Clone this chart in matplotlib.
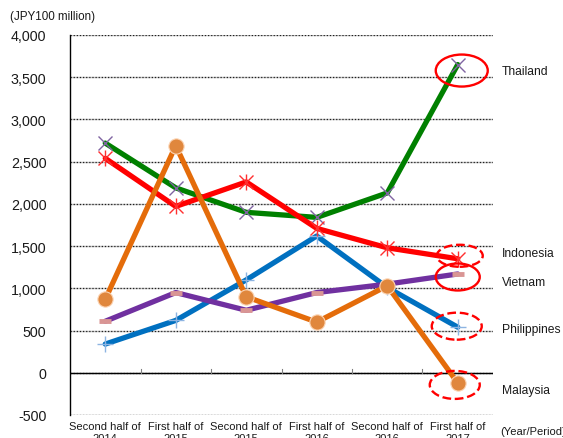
import numpy as np
import matplotlib
matplotlib.use('Agg')
import matplotlib.pyplot as plt
from matplotlib.patches import Ellipse

plt.rcParams['font.family'] = ['Liberation Sans', 'DejaVu Sans']

periods = ["Second half of\n2014", "First half of\n2015", "Second half of\n2015",
           "First half of\n2016", "Second half of\n2016", "First half of\n2017"]

thailand = [2720, 2190, 1900, 1840, 2130, 3650]
indonesia = [2540, 1970, 2260, 1710, 1480, 1350]
vietnam = [610, 950, 740, 950, 1050, 1170]
philippines = [340, 620, 1100, 1620, 1010, 540]
malaysia = [870, 2690, 900, 600, 1030, -120]

ymin, ymax = -500, 4000
x = np.arange(len(periods))

fig = plt.figure(figsize=(5.63, 4.39), dpi=100)
ax = fig.add_axes([70 / 563, 23 / 439, 423 / 563, 380 / 439])

ax.set_xlim(-0.5, len(periods) - 0.5)
ax.set_ylim(ymin, ymax)

# gridlines: light grey line with black dots on top
yt = np.arange(ymin, ymax + 1, 500)
for v in yt:
    ax.axhline(v, color='#c0c0c0', lw=1.0, zorder=0)
    ax.axhline(v, color='#202020', lw=0.9, ls=(0, (1, 1.5)), zorder=0.5)

# series
ax.plot(x, thailand, color='#008000', lw=3.8, zorder=2, solid_capstyle='round',
        marker='x', ms=10, mec='#8064A2', mew=1.0)
ax.plot(x, philippines, color='#0070C0', lw=3.8, zorder=3, solid_capstyle='round',
        marker='+', ms=11, mec='#8DB4E2', mew=1.0)
ax.plot(x, indonesia, color='#FF0000', lw=3.8, zorder=4, solid_capstyle='round',
        marker='x', ms=10, mec='#FF3030', mew=1.0)
ax.plot(x, indonesia, ls='none', marker='|', ms=12, mec='#FF3030', mew=1.0, zorder=4)
ax.plot(x, vietnam, color='#7030A0', lw=3.8, zorder=5, solid_capstyle='round',
        marker='_', ms=8, mec='#D99594', mew=3.5)
ax.plot(x, malaysia, color='#E46C0A', lw=3.8, zorder=6, solid_capstyle='round',
        marker='o', ms=11, mfc='#E0873D', mec='#FCD5B5', mew=0.8)

# zero axis line with boundary ticks
ax.axhline(0, color='black', lw=1.0, zorder=1)
for b in np.arange(0.5, len(periods) - 0.5, 1.0):
    ax.plot([b, b], [0, 40], color='#808080', lw=0.8, zorder=1)

# spines and ticks
for s in ['top', 'right', 'bottom']:
    ax.spines[s].set_visible(False)
ax.spines['left'].set_linewidth(1.0)
ax.set_yticks(yt)
ax.set_yticklabels([f"{v:,}" for v in yt], fontsize=10.3, color='#1a1a1a')
ax.tick_params(axis='y', length=0, pad=17)
ax.set_xticks(x)
ax.set_xticklabels(periods, fontsize=8, linespacing=1.25, color='#1a1a1a')
ax.tick_params(axis='x', length=0, pad=4)

# highlight rings around the latest values (offsets and sizes in pixels)
px_x = 423 / len(periods)
px_y = 380 / (ymax - ymin)
rings = [
    (thailand[-1], 4, -6, 52, 32, '-'),
    (indonesia[-1], 2, 3, 46, 22, '--'),
    (vietnam[-1], 0, -3, 44, 27, '-'),
    (philippines[-1], -1, 1, 50, 27, '--'),
    (malaysia[-1], -3, -2, 50, 28, '--'),
]
for val, dx, dy, w, h, ls in rings:
    e = Ellipse((x[-1] + dx / px_x, val + dy / px_y), w / px_x, h / px_y,
                fill=False, edgecolor='#FF0000', lw=1.7, ls=ls, zorder=7,
                clip_on=False)
    ax.add_patch(e)

# country labels
names = [("Thailand", 72), ("Indonesia", 254), ("Vietnam", 283),
         ("Philippines", 330), ("Malaysia", 391)]
for name, py in names:
    fig.text(502 / 563, 1 - py / 439, name, fontsize=8.7, va='center', ha='left',
             color='#1a1a1a')

fig.text(10 / 563, 1 - 17 / 439, "(JPY100 million)", fontsize=8.4, va='center', ha='left',
         color='#1a1a1a')
fig.text(500 / 563, 1 - 432 / 439, "(Year/Period)", fontsize=8, va='center', ha='left',
         color='#1a1a1a')

fig.savefig('out.png', dpi=100)
